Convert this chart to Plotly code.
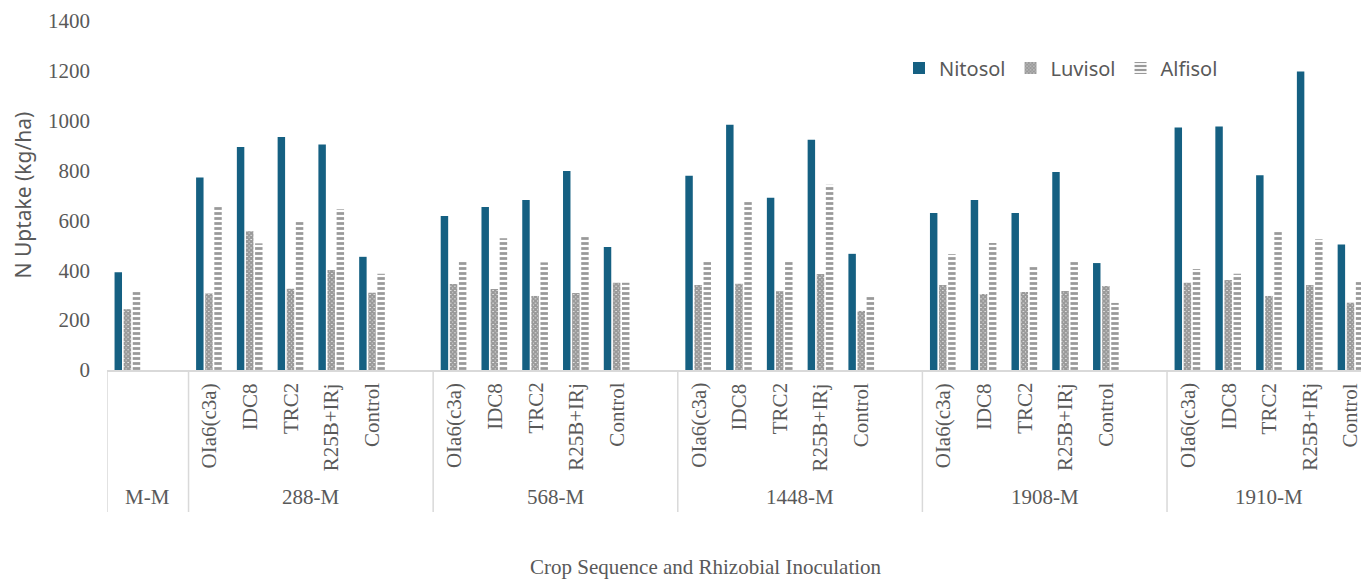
import plotly.graph_objects as go

# Crop sequences (outer level) and rhizobial inoculants (inner level)
groups = ["M-M", "288-M", "568-M", "1448-M", "1908-M", "1910-M"]
inoculants = ["OIa6(c3a)", "IDC8", "TRC2", "R25B+IRj", "Control"]

# N uptake (kg/ha); first value is M-M, then 5 inoculants for each legume sequence
nitosol = [392,
           772, 895, 935, 905, 454,
           618, 654, 682, 798, 493,
           779, 984, 691, 924, 466,
           630, 682, 630, 794, 429,
           973, 977, 781, 1197, 503]
luvisol = [244,
           307, 557, 326, 401, 310,
           345, 325, 297, 309, 350,
           341, 346, 316, 385, 237,
           341, 305, 313, 317, 337,
           350, 361, 297, 341, 270]
alfisol = [320,
           662, 508, 595, 645, 386,
           441, 529, 432, 538, 350,
           434, 675, 438, 743, 301,
           465, 509, 421, 441, 269,
           405, 386, 557, 525, 354]

# Slot layout: M-M plus an empty slot, then each sequence gets 5 slots + 1 spacer
positions = [0]
group_spans = [(-0.5, 1.5)]
for g in range(1, len(groups)):
    start = 2 + (g - 1) * 6
    positions += [start + j for j in range(len(inoculants))]
    end = start + len(inoculants) + (0.5 if g < len(groups) - 1 else -0.5)
    group_spans.append((start - 0.5, end))

label_pos = positions[1:]
label_text = inoculants * (len(groups) - 1)

GRAY = "#595959"
PAT = "#333333"
LINE = "#d9d9d9"
SERIF = "Liberation Serif"
SANS = "Noto Sans"

W, H = 1361, 582
L, T, B = 107, 21, 212
plot_h = H - T - B
slot_px = 40.77
x_max = -0.5 + (W - L) / slot_px


def py(px):
    """Paper y coordinate for a pixel row of the page."""
    return 1 - (px - T) / plot_h


fig = go.Figure()
fig.add_bar(name="Nitosol", x=positions, y=nitosol,
            marker=dict(color="#156082", line=dict(width=0)))
fig.add_bar(name="Luvisol", x=positions, y=luvisol,
            marker=dict(color="white", line=dict(width=0),
                        pattern=dict(shape="x", size=3, solidity=0.9,
                                     fgcolor=PAT, bgcolor="white")))
fig.add_bar(name="Alfisol", x=positions, y=alfisol,
            marker=dict(color="white", line=dict(width=0),
                        pattern=dict(shape="-", size=5, solidity=0.55,
                                     fgcolor=PAT, bgcolor="white")))

shapes = []
annotations = []
for (a, b), name in zip(group_spans, groups):
    shapes.append(dict(type="line", xref="x", yref="paper", x0=a, x1=a,
                       y0=0, y1=py(512), line=dict(color=LINE, width=1.5)))
    annotations.append(dict(xref="x", yref="paper", x=(a + b) / 2,
                            y=py(497), text=name, showarrow=False,
                            xanchor="center", yanchor="middle",
                            font=dict(family=SERIF, size=21, color=GRAY)))

# Inoculant labels, rotated, hanging just below the category axis
for xv, txt in zip(label_pos, label_text):
    annotations.append(dict(xref="x", yref="paper", x=xv, y=py(381),
                            text=txt, textangle=-90, showarrow=False,
                            xanchor="center", yanchor="top",
                            font=dict(family=SERIF, size=21, color=GRAY)))

annotations.append(dict(xref="paper", yref="paper", x=(22 - L) / (W - L),
                        y=0.5, text="N Uptake (kg/ha)", textangle=-90,
                        showarrow=False, xanchor="center", yanchor="middle",
                        font=dict(family=SANS, size=21, color=GRAY)))
annotations.append(dict(xref="paper", yref="paper", x=(706 - L) / (W - L),
                        y=py(581),
                        text="Crop Sequence and Rhizobial Inoculation",
                        showarrow=False, xanchor="center", yanchor="bottom",
                        font=dict(family=SERIF, size=21, color=GRAY)))

fig.update_layout(
    width=W, height=H,
    margin=dict(l=L, r=0, t=T, b=B),
    paper_bgcolor="white", plot_bgcolor="white",
    barmode="group", bargap=0.33, bargroupgap=0.18,
    showlegend=True,
    legend=dict(orientation="h", x=(899 - L) / (W - L), xanchor="left",
                y=py(68), yanchor="middle",
                font=dict(family=SANS, size=20, color=GRAY),
                bgcolor="rgba(0,0,0,0)"),
    xaxis=dict(range=[-0.5, x_max], showticklabels=False, ticks="",
               showline=True, linecolor=LINE, linewidth=1.5,
               showgrid=False, zeroline=False),
    yaxis=dict(range=[0, 1400], dtick=200, tick0=0, showgrid=False,
               zeroline=False, showline=False, ticks="",
               ticklabelstandoff=16,
               tickfont=dict(family=SERIF, size=21, color=GRAY)),
    shapes=shapes, annotations=annotations,
)

fig.write_html("out.html")
